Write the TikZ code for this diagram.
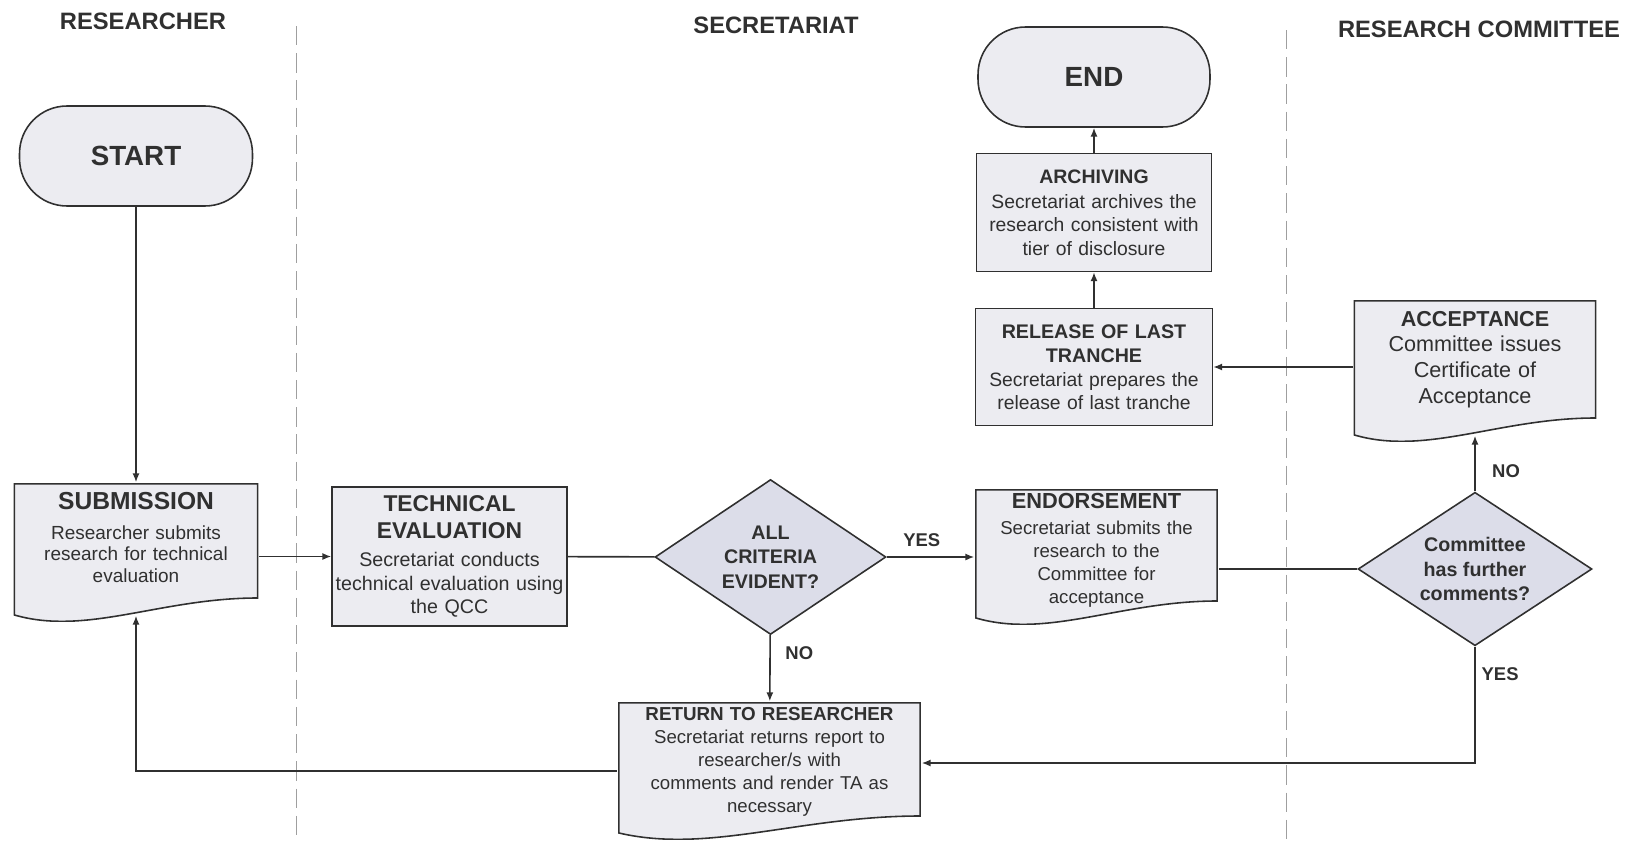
\documentclass[tikz,border=0pt]{standalone}
\usepackage{fontspec}
\setmainfont{Liberation Sans}
\usetikzlibrary{shapes.geometric,arrows.meta,calc}
\definecolor{boxfill}{HTML}{ECECF1}
\definecolor{decfill}{HTML}{DCDDE9}
\definecolor{ink}{HTML}{303030}
\newcommand\fs[2]{\fontsize{#1}{#2}\selectfont}
\newcommand\ttl[4][0pt]{{\bfseries\fontsize{#2}{#3}\selectfont #4\par}\vspace{#1}}
\newcommand\padend[1]{\par\kern#1}
\begin{document}
\begin{tikzpicture}[x=0.02cm, y=-0.02cm, color=ink, line width=0.9pt,
      box/.style = {draw, fill=boxfill, align=center, inner xsep=0pt, inner ysep=2pt,
        font=\fs{11}{13.3}},
      proc/.style = {box, rectangle},
      doc/.style = {box, rectangle, draw=none, fill=none,
        execute at end node={\padend{#1}},
        path picture={
          \path[fill=boxfill, draw=ink, line width=0.9pt]
            ([shift={(0.5pt,-0.5pt)}]path picture bounding box.north west)
            -- ([shift={(-0.5pt,-0.5pt)}]path picture bounding box.north east)
            -- ([shift={(-0.5pt,0.48cm)}]path picture bounding box.south east)
            .. controls ($(path picture bounding box.south west)!0.6!(path picture bounding box.south east)+(0,0.48cm)$)
            and ($(path picture bounding box.south west)!0.3!(path picture bounding box.south east)+(0,-0.28cm)$)
            .. ([shift={(0.5pt,0.14cm)}]path picture bounding box.south west) -- cycle;}},
      term/.style = {box, rectangle, rounded corners=0.95cm, font=\bfseries\fs{15.8}{18}},
      dec/.style = {box, diamond, fill=decfill, aspect=1.5, inner sep=0pt,
        font=\bfseries\fs{11.2}{14}},
      lane/.style = {draw=gray!75, line width=0.5pt, dash pattern=on 11pt off 4.5pt},
      hdr/.style = {font=\bfseries\fs{13.5}{16}},
      lbl/.style = {font=\bfseries\fs{10.5}{12}},
      arr/.style = {-{Latex[length=5pt,width=4pt]}}]
  \useasboundingbox (0,0) rectangle (1639,842);

  \draw[lane] (296,26) -- (296,842);
  \draw[lane] (1286,30) -- (1286,842);

  \node[hdr] (hres) at (143,21) {RESEARCHER};
  \node[hdr] (hsec) at (776,25) {SECRETARIAT};
  \node[hdr] (hcom) at (1479,29) {RESEARCH COMMITTEE};

  \node[term, minimum width=4.66cm, minimum height=2cm] (start) at (136,156) {START};
  \node[doc=17pt, text width=4.9cm, minimum height=2.78cm, font=\fs{10.8}{12.3}] (submit) at (136,552.5)
    {\ttl[4.5pt]{14}{16}{SUBMISSION}Researcher submits\\research for technical\\evaluation};
  \node[proc, text width=4.7cm, minimum height=2.78cm, font=\fs{11.2}{13.3}] (tech) at (449.5,556.5)
    {\ttl[3pt]{13}{15.2}{TECHNICAL\\EVALUATION}Secretariat conducts\\technical evaluation using\\the QCC};
  \node[dec, minimum width=4.62cm, minimum height=3.1cm] (crit) at (770.5,557)
    {ALL\\CRITERIA\\EVIDENT?};
  \node[doc=7.5pt, text width=4.86cm, minimum height=2.72cm, font=\fs{10.6}{13.1}] (endorse) at (1096.5,557)
    {\ttl[2pt]{12.4}{14.5}{ENDORSEMENT}Secretariat submits the\\research to the\\Committee for\\acceptance};
  \node[dec, minimum width=4.68cm, minimum height=3.07cm] (further) at (1475,569)
    {Committee\\has further\\comments?};
  \node[doc=13pt, text width=4.86cm, minimum height=2.84cm, font=\fs{12.3}{14.7}] (accept) at (1475,371)
    {\ttl{12.3}{14.7}{ACCEPTANCE}Committee issues\\Certificate of\\Acceptance};
  \node[proc, text width=4.74cm, minimum height=2.34cm] (release) at (1094,367)
    {\ttl{11.2}{14}{RELEASE OF LAST\\TRANCHE}Secretariat prepares the\\release of last tranche};
  \node[proc, text width=4.7cm, minimum height=2.36cm] (archive) at (1094,212.5)
    {\ttl[1pt]{11.1}{13.3}{ARCHIVING}Secretariat archives the\\research consistent with\\tier of disclosure};
  \node[term, minimum width=4.64cm, minimum height=2cm] (end) at (1094,77) {END};
  \node[doc=10pt, text width=6.06cm, minimum height=2.76cm, font=\fs{10.6}{13.1}] (ret) at (769.5,771)
    {\ttl{10.7}{13.1}{RETURN TO RESEARCHER}Secretariat returns report to\\researcher/s with\\comments and render TA as\\necessary};

  \draw[arr] (start) -- (submit);
  \draw[arr] (submit.east |- tech) -- (tech);
  \draw (tech) -- (crit);
  \draw[arr] (crit) -- node[lbl, pos=0.4, above=2pt] {YES} (endorse.west |- crit);
  \draw[arr] (crit) -- node[lbl, pos=0.28, right=5pt] {NO} (ret);
  \draw (endorse.east |- further) -- (further);
  \draw[arr] (further) -- node[lbl, pos=0.36, right=6pt] {NO} ([yshift=0.14cm]accept.south);
  \draw[arr] (further) |- node[lbl, pos=0.12, right=0pt] {YES} ([yshift=0.16cm]ret.east);
  \draw[arr] (ret.west) -| ([yshift=0.14cm]submit.south);
  \draw[arr] (accept.west |- release) -- (release);
  \draw[arr] (release) -- (archive);
  \draw[arr] (archive) -- (end);
\end{tikzpicture}
\end{document}
